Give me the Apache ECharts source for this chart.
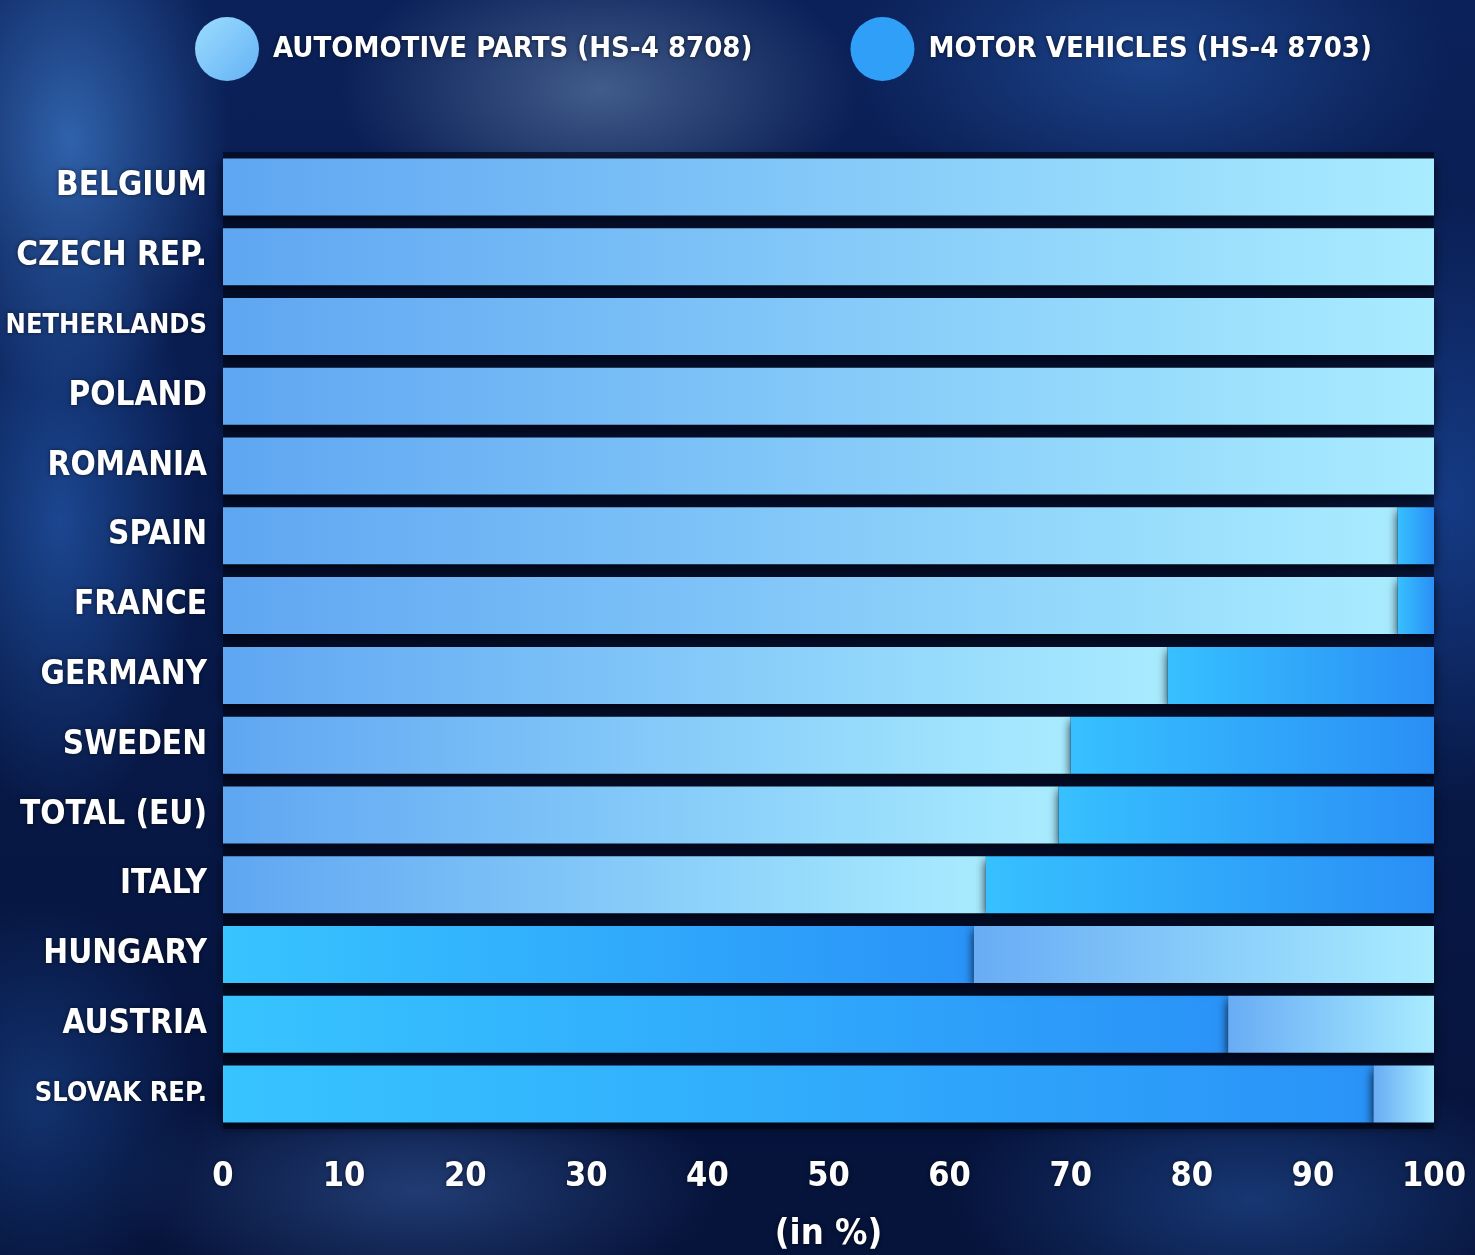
<!DOCTYPE html>
<html>
<head>
<meta charset="utf-8">
<script src="https://cdn.jsdelivr.net/npm/echarts@6/dist/echarts.min.js"></script>
<style>
html,body{margin:0;padding:0;width:1475px;height:1255px;overflow:hidden;}
body{
  background:
    radial-gradient(ellipse 160px 260px at 70px 140px, rgba(60,120,200,0.75), rgba(60,120,200,0) 100%),
    radial-gradient(ellipse 260px 140px at 600px 90px, rgba(110,140,180,0.55), rgba(110,140,180,0) 100%),
    radial-gradient(ellipse 300px 160px at 1150px 60px, rgba(40,90,170,0.6), rgba(40,90,170,0) 100%),
    radial-gradient(ellipse 200px 300px at 1450px 500px, rgba(30,80,170,0.6), rgba(30,80,170,0) 100%),
    radial-gradient(ellipse 140px 300px at 60px 520px, rgba(40,100,190,0.6), rgba(40,100,190,0) 100%),
    radial-gradient(ellipse 160px 200px at 40px 1100px, rgba(30,80,160,0.5), rgba(30,80,160,0) 100%),
    radial-gradient(ellipse 300px 120px at 420px 1190px, rgba(60,100,170,0.5), rgba(60,100,170,0) 100%),
    radial-gradient(ellipse 300px 140px at 1250px 1200px, rgba(40,90,170,0.5), rgba(40,90,170,0) 100%),
    linear-gradient(180deg, #0b2159 0%, #081a4a 50%, #06133a 100%);
}
#chart{width:1475px;height:1255px;}
</style>
</head>
<body>
<div id="chart"></div>
<script>
const categories = ['BELGIUM','CZECH REP.','NETHERLANDS','POLAND','ROMANIA','SPAIN','FRANCE','GERMANY','SWEDEN','TOTAL (EU)','ITALY','HUNGARY','AUSTRIA','SLOVAK REP.'];
const partsShare = [100,100,100,100,100,97,97,78,70,69,63,38,17,5];
const motorShare = [0,0,0,0,0,3,3,22,30,31,37,62,83,95];
const motorFirst = ['HUNGARY','AUSTRIA','SLOVAK REP.'];
const xTicks = [0,10,20,30,40,50,60,70,80,90,100];

const PARTS = 'AUTOMOTIVE PARTS (HS-4 8708)';
const MOTOR = 'MOTOR VEHICLES (HS-4 8703)';
const FONT = '"DejaVu Sans Condensed","Noto Sans",sans-serif';

function grad(c0, c1){
  return new echarts.graphic.LinearGradient(0,0,1,0,[{offset:0,color:c0},{offset:1,color:c1}]);
}
const shadow = {shadowColor:'rgba(0,3,15,0.9)', shadowBlur:10, shadowOffsetY:4};
const tShadow = {textShadowColor:'rgba(0,0,0,0.6)', textShadowBlur:4};

const isMF = c => motorFirst.indexOf(c) >= 0;

const option = {
  backgroundColor:'transparent',
  animation:false,
  legend:{
    left:190, top:12, width:1280,
    icon:'circle', itemWidth:64, itemHeight:64, itemGap:98,
    textStyle:Object.assign({color:'#fff', fontFamily:FONT, fontWeight:'bold', fontSize:29, padding:[0,0,0,9]}, tShadow),
    data:[
      {name:PARTS, itemStyle:{color:new echarts.graphic.LinearGradient(0,0,1,1,[{offset:0,color:'#9ddcff'},{offset:1,color:'#63b2f5'}])}},
      {name:MOTOR, itemStyle:{color:'#2f9ff7'}}
    ]
  },
  grid:{left:223, right:41, top:152, bottom:126, outerBoundsMode:'none', containLabel:false,
    show:true, backgroundColor:'rgba(3,8,28,0.7)', borderWidth:0},
  xAxis:{
    type:'value', min:0, max:100, interval:10,
    name:'(in %)', nameLocation:'middle', nameGap:88,
    nameTextStyle:Object.assign({color:'#fff', fontFamily:FONT, fontWeight:'bold', fontSize:36}, tShadow),
    axisLine:{show:false}, axisTick:{show:false}, splitLine:{show:false},
    axisLabel:Object.assign({color:'#fff', fontFamily:FONT, fontWeight:'bold', fontSize:34, margin:31,
      formatter: v => xTicks.indexOf(v) >= 0 ? String(v) : ''}, tShadow)
  },
  yAxis:{
    type:'category', data:categories, inverse:true,
    axisLine:{show:false}, axisTick:{show:false},
    axisLabel:Object.assign({color:'#fff', fontFamily:FONT, fontWeight:'bold', fontSize:33, margin:16,
      formatter: v => v.length > 10 ? '{s|' + v + '}' : v,
      rich:{s:Object.assign({fontSize:27, color:'#fff', fontFamily:FONT, fontWeight:'bold'}, tShadow)}}, tShadow)
  },
  series:[
    {name:PARTS, type:'bar', stack:'t', barWidth:57,
      data:categories.map((c,i)=> isMF(c) ? '-' : partsShare[i]),
      itemStyle:Object.assign({color:grad('#5fa6f2','#a9ecff')}, shadow)},
    {name:MOTOR, type:'bar', stack:'t', barWidth:57,
      data:categories.map((c,i)=> isMF(c) ? motorShare[i] : '-'),
      itemStyle:Object.assign({color:grad('#37c4ff','#2a93f8')}, shadow)},
    {name:MOTOR, type:'bar', stack:'t', barWidth:57,
      data:categories.map((c,i)=> isMF(c) ? '-' : motorShare[i]),
      itemStyle:Object.assign({color:grad('#37c0ff','#2a8ff5')}, shadow)},
    {name:PARTS, type:'bar', stack:'t', barWidth:57,
      data:categories.map((c,i)=> isMF(c) ? partsShare[i] : '-'),
      itemStyle:Object.assign({color:grad('#68acf5','#a9ecff')}, shadow)}
  ]
};
const chart = echarts.init(document.getElementById('chart'), null, {renderer:'canvas'});
chart.setOption(option);
</script>
</body>
</html>
